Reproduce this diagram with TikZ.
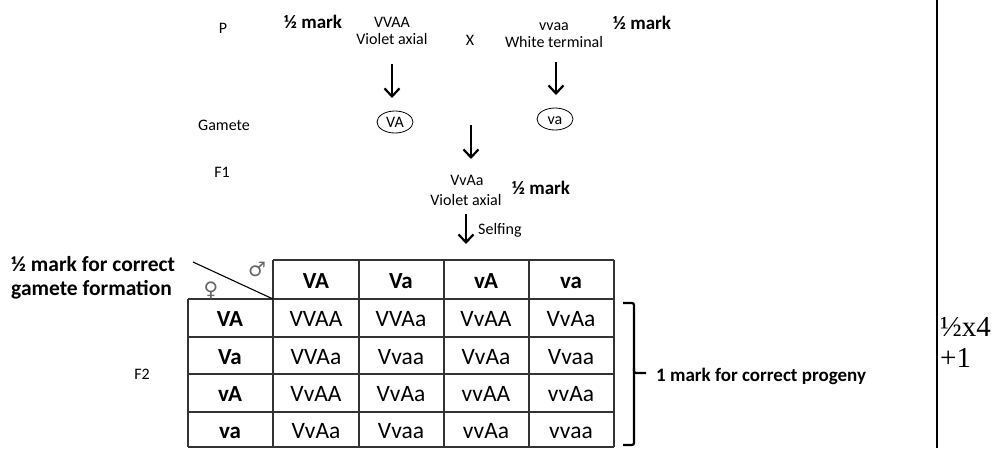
\documentclass[tikz,border=0pt]{standalone}
\usepackage{fontspec}
\setmainfont{Carlito}
\newfontfamily\timesf{Liberation Serif}
\newfontfamily\symf{DejaVu Sans}
\usetikzlibrary{shapes.geometric,arrows.meta}
\begin{document}
\begin{tikzpicture}[x=1pt,y=-1pt,
  txt/.style={inner sep=0pt,text height=10.3pt,text depth=0pt,font=\fontsize{16}{18}\selectfont},
  bmark/.style={inner sep=0pt,text height=12.2pt,text depth=0pt,font=\fontsize{19}{21}\selectfont\bfseries},
  bigarrow/.style={line width=2.2pt,-{Straight Barb[length=8pt,width=15pt,line width=2.2pt]}},
  gam/.style={ellipse,draw,line width=0.8pt,minimum width=36pt,minimum height=22pt,inner sep=0pt,text height=10.3pt,text depth=0pt,font=\fontsize{16}{18}\selectfont},
  cell/.style={inner sep=0pt,text height=15.1pt,text depth=0pt,font=\fontsize{23.5}{25}\selectfont},
  hcell/.style={inner sep=0pt,text height=14.8pt,text depth=0pt,font=\fontsize{23}{25}\selectfont\bfseries},
  grid/.style={line width=1.3pt,black!80}]
\useasboundingbox (0,0) rectangle (997,448);
% top section
\node[txt] (P) at (223,28) {P};
\node[bmark] (m1) at (313,22) {½ mark};
\node[txt] (p1a) at (392,22) {VVAA};
\node[txt] (p1b) at (392,39) {Violet axial};
\node[txt] (X) at (470,40) {X};
\node[txt] (p2a) at (554,25) {vvaa};
\node[txt] (p2b) at (554,42) {White terminal};
\node[bmark] (m2) at (642,23) {½ mark};
\node[txt] (G) at (224,125) {Gamete};
\node[gam] (gVA) at (395,122) {VA};
\node[gam] (gva) at (555,119) {va};
\node[txt] (F1) at (222,172) {F1};
\node[txt] (f1a) at (467,180) {VvAa};
\node[txt] (f1b) at (466,200) {Violet axial};
\node[bmark] (m3) at (541,188) {½ mark};
\node[txt,anchor=west] (self) at (478,229) {Selfing};
\node[txt] (F2) at (142,374) {F2};
\coordinate (a1s) at (392,64);
\coordinate (a1e) at (392,98);
\coordinate (a2s) at (556,62);
\coordinate (a2e) at (556,95);
\coordinate (a3s) at (471,125);
\coordinate (a3e) at (471,159);
\coordinate (a4s) at (466,214);
\coordinate (a4e) at (466,244);
\draw[bigarrow] (a1s) -- (a1e);
\draw[bigarrow] (a2s) -- (a2e);
\draw[bigarrow] (a3s) -- (a3e);
\draw[bigarrow] (a4s) -- (a4e);
% left label
\node[bmark,anchor=west,text height=13.8pt,font=\fontsize{21.5}{23}\selectfont\bfseries] (gl1) at (11,265) {½ mark for correct};
\node[bmark,anchor=west,text height=13.8pt,font=\fontsize{21.5}{23}\selectfont\bfseries] (gl2) at (11,289) {gamete formation};
% table grid
\draw[grid] (273,260) -- (614,260);
\foreach \y in {299,337,374,412,447} \draw[grid] (188,\y) -- (614,\y);
\draw[grid] (188,299) -- (188,447);
\foreach \x in {273,359,444,529,614} \draw[grid] (\x,260) -- (\x,447);
\coordinate (dg1) at (193,262);
\coordinate (dg2) at (273,299);
\draw[line width=1.1pt] (dg1) -- (dg2);
\node[inner sep=0pt,font=\fontsize{20}{22}\selectfont\symf,text=black!60] (male) at (257,269) {♂};
\node[inner sep=0pt,font=\fontsize{20}{22}\selectfont\symf,text=black!60] (female) at (211,290) {♀};
% headers
\node[hcell] (hVA) at (316,281) {VA};
\node[hcell] (hVa) at (401,281) {Va};
\node[hcell] (hvA) at (486,281) {vA};
\node[hcell] (hva) at (571,281) {va};
\node[hcell] (rVA) at (230,319) {VA};
\node[hcell] (rVa) at (230,357) {Va};
\node[hcell] (rvA) at (230,394) {vA};
\node[hcell] (rva) at (230,431) {va};
% body
\node[cell] (c11) at (316,319) {VVAA};
\node[cell] (c12) at (401,319) {VVAa};
\node[cell] (c13) at (486,319) {VvAA};
\node[cell] (c14) at (571,319) {VvAa};
\node[cell] (c21) at (316,357) {VVAa};
\node[cell] (c22) at (401,357) {Vvaa};
\node[cell] (c23) at (486,357) {VvAa};
\node[cell] (c24) at (571,357) {Vvaa};
\node[cell] (c31) at (316,394) {VvAA};
\node[cell] (c32) at (401,394) {VvAa};
\node[cell] (c33) at (486,394) {vvAA};
\node[cell] (c34) at (571,394) {vvAa};
\node[cell] (c41) at (316,431) {VvAa};
\node[cell] (c42) at (401,431) {Vvaa};
\node[cell] (c43) at (486,431) {vvAa};
\node[cell] (c44) at (571,431) {vvaa};
% brace
\coordinate (bt) at (623,303);
\coordinate (bb) at (623,445);
\coordinate (bm) at (646,373);
\draw[line width=2.2pt,rounded corners=2pt] (bt) -- (634,303) -- (634,373) -- (bm);
\draw[line width=2.2pt,rounded corners=2pt] (634,368) -- (634,445) -- (bb);
\node[bmark,anchor=west] (prog) at (656,375) {1 mark for correct progeny};
% right column
\coordinate (vt) at (937,0);
\coordinate (vb) at (937,448);
\draw[line width=2pt] (vt) -- (vb);
\node[inner sep=0pt,anchor=west,font=\fontsize{29}{31}\selectfont\timesf] (s1) at (940,327) {½x4};
\node[inner sep=0pt,anchor=west,font=\fontsize{29}{31}\selectfont\timesf] (s2) at (940,358) {+1};
\end{tikzpicture}
\end{document}
